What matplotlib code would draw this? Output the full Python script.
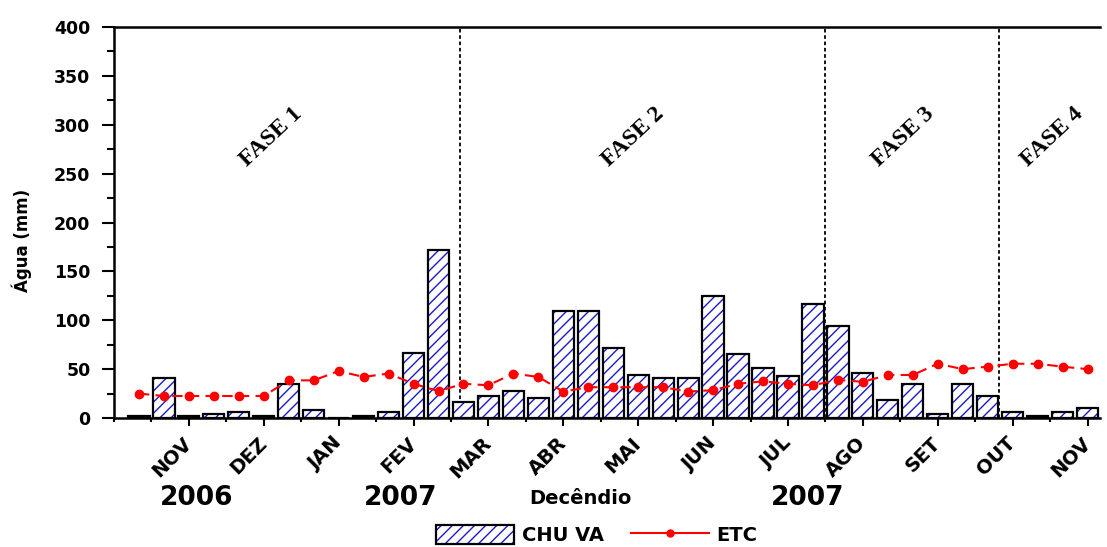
import numpy as np
import matplotlib.pyplot as plt
from matplotlib.patches import Patch
from matplotlib.lines import Line2D
from matplotlib.legend_handler import HandlerTuple

# precipitação (CHUVA) e evapotranspiração da cultura (ETC) por decêndio, nov/2006 - nov/2007
chuva = [2, 41, 2, 4.5, 6, 2, 34.5, 8, 0, 2,
         6, 67, 172, 16, 22.5, 28, 20.5, 109, 109, 71.5,
         44.5, 41, 41, 125, 65, 51, 43, 117, 94, 46.5,
         18, 34.5, 4, 34.5, 22.5, 6, 2, 6, 10]
etc = [25, 22.5, 22.5, 22.5, 22.5, 22.5, 38.5, 38.5, 48, 42,
       45.5, 35, 27.5, 35, 33.5, 45.5, 42, 27, 31.5, 31.5,
       31.5, 31.5, 27, 28.5, 35, 37.5, 35, 33.5, 39, 37,
       44, 44, 55.5, 50, 52.5, 55.5, 55.5, 52.5, 50]
meses = ['NOV', 'DEZ', 'JAN', 'FEV', 'MAR', 'ABR', 'MAI', 'JUN', 'JUL', 'AGO', 'SET', 'OUT', 'NOV']
fase_lim = [12.85, 27.5, 34.45]
fases = ['FASE 1', 'FASE 2', 'FASE 3', 'FASE 4']
fase_x = [5.3, 19.8, 30.6, 36.6]
anos = ['2006', '2007', '2007']
anos_x = [2.3, 10.5, 26.8]

plt.rcParams['font.family'] = 'DejaVu Sans'
plt.rcParams['font.weight'] = 'bold'

x = np.arange(len(chuva))

fig = plt.figure(figsize=(11.07, 5.47), dpi=100)
ax = fig.add_axes([114 / 1107, 1 - 418 / 547, 986 / 1107, 391 / 547])

# hachura azul + contorno preto
ax.bar(x, chuva, width=0.85, color='white', edgecolor='#1a1acc', hatch='///', linewidth=0, zorder=2)
ax.bar(x, chuva, width=0.85, fill=False, edgecolor='black', linewidth=1.6, zorder=3)
ax.plot(x, etc, color='red', marker='o', markersize=6, linewidth=1.5,
        linestyle=(0, (5, 3)), zorder=4)

for xl in fase_lim:
    ax.axvline(xl, color='black', linestyle=(0, (2, 1.5)), linewidth=1.3, zorder=1)
for f, fx in zip(fases, fase_x):
    ax.text(fx, 288, f, rotation=43, ha='center', va='center', fontsize=17,
            family='Liberation Serif', fontweight='bold')

ax.set_xlim(-1, 38.5)
ax.set_ylim(0, 400)
ax.set_yticks(np.arange(0, 401, 50))
ax.set_yticks(np.arange(0, 401, 25), minor=True)
ax.set_xticks(np.arange(2, 39, 3))
ax.set_xticks(np.arange(-1, 39, 1.5), minor=True)
ax.set_xticklabels(meses, rotation=45, ha='right', va='center', rotation_mode='anchor', fontsize=14)
ax.tick_params(axis='y', which='major', length=9, width=1.5, labelsize=12.5, pad=8)
ax.tick_params(axis='y', which='minor', length=5, width=1.5)
ax.tick_params(axis='x', which='major', length=6, width=1.5, pad=10)
ax.tick_params(axis='x', which='minor', length=3, width=1.5)
ax.spines['right'].set_visible(False)
for s in ['left', 'bottom', 'top']:
    ax.spines[s].set_linewidth(1.8)

ax.set_ylabel('Água (mm)', fontsize=12, fontweight='bold')
ax.yaxis.set_label_coords(-0.083, 0.455)

trans = ax.get_xaxis_transform()
for a, ax_ in zip(anos, anos_x):
    ax.text(ax_, -0.205, a, transform=trans, ha='center', va='center', fontsize=19, fontweight='bold')
ax.text(17.7, -0.205, 'Decêndio', transform=trans, ha='center', va='center', fontsize=14, fontweight='bold')

h_chuva = (Patch(facecolor='white', edgecolor='#1a1acc', hatch='///', linewidth=0),
           Patch(fill=False, edgecolor='black', linewidth=1.6))
h_etc = Line2D([], [], color='red', marker='o', markersize=5, linewidth=1.5)
fig.legend([h_chuva, h_etc], ['CHU VA', 'ETC'], handler_map={tuple: HandlerTuple(ndivide=1)},
           loc='center', bbox_to_anchor=(597 / 1107, 1 - 535 / 547), ncol=2, frameon=False,
           fontsize=14, handlelength=4.0, handleheight=1.1, handletextpad=0.4, columnspacing=1.4)

fig.savefig('out.png', dpi=100)
